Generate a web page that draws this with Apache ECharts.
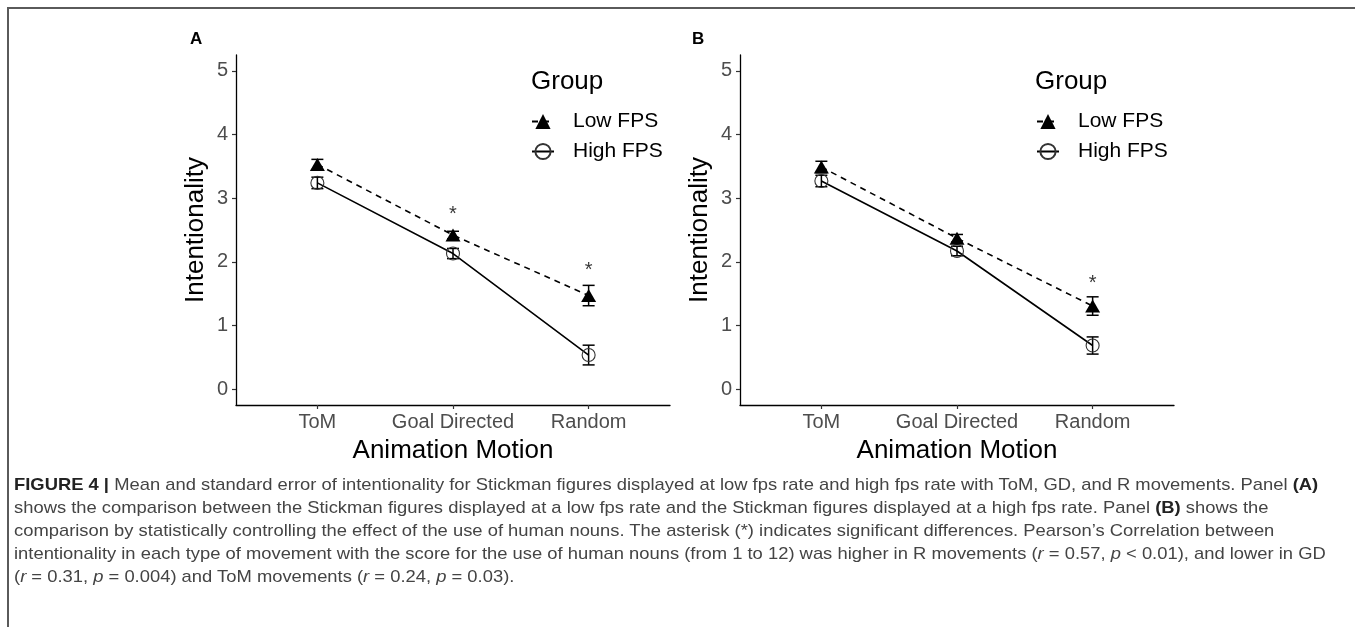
<!DOCTYPE html>
<html>
<head>
<meta charset="utf-8">
<script src="https://cdn.jsdelivr.net/npm/echarts@6/dist/echarts.min.js"></script>
<style>
    html, body { margin: 0; padding: 0; background: #fff; }
    #wrap { position: relative; width: 1355px; height: 627px; overflow: hidden; }
    #chart { position: absolute; left: 0; top: 0; width: 1355px; height: 627px; }
    /* figure frame: only top and left edges are visible */
    #frame { position: absolute; left: 7px; top: 7px; width: 1400px; height: 700px;
             border-top: 2px solid #5a5a5a; border-left: 2px solid #5a5a5a; }
    #caption { position: absolute; left: 14px; top: 473px; color: #444;
               font-family: "Liberation Sans", Arial, sans-serif;
               font-size: 17px; line-height: 23px; white-space: nowrap; transform-origin: 0 0; }
    #caption b { font-weight: bold; color: #222; }
</style>
</head>
<body>
<div id="wrap">
    <div id="chart"></div>
    <div id="frame"></div>
    <div id="caption">
        <div><span id="cap1"><b>FIGURE 4 |</b> Mean and standard error of intentionality for Stickman figures displayed at low fps rate and high fps rate with ToM, GD, and R movements. Panel <b>(A)</b></span></div>
        <div>shows the comparison between the Stickman figures displayed at a low fps rate and the Stickman figures displayed at a high fps rate. Panel <b>(B)</b> shows the</div>
        <div>comparison by statistically controlling the effect of the use of human nouns. The asterisk (*) indicates significant differences. Pearson’s Correlation between</div>
        <div><span id="cap4">intentionality in each type of movement with the score for the use of human nouns (from 1 to 12) was higher in R movements (<i>r</i> = 0.57, <i>p</i> &lt; 0.01), and lower in GD</span></div>
        <div>(<i>r</i> = 0.31, <i>p</i> = 0.004) and ToM movements (<i>r</i> = 0.24, <i>p</i> = 0.03).</div>
    </div>
</div>
<script>
const categories = ['ToM', 'Goal Directed', 'Random'];
const yTicks = [0, 1, 2, 3, 4, 5];

// panel A: low vs high fps
const lowFpsA = [3.53, 2.42, 1.47];
const lowFpsSeA = [0.08, 0.06, 0.16];
const highFpsA = [3.24, 2.13, 0.535];
const highFpsSeA = [0.09, 0.08, 0.155];
const starCatA = [1, 2];
const starValA = [2.81, 1.92];

// panel B: controlling for human nouns
const lowFpsB = [3.49, 2.37, 1.305];
const lowFpsSeB = [0.09, 0.06, 0.145];
const highFpsB = [3.27, 2.17, 0.685];
const highFpsSeB = [0.09, 0.075, 0.135];
const starCatB = [2];
const starValB = [1.72];

const font = '"Liberation Sans", Arial, sans-serif';
const tickColor = '#4d4d4d';

function xAxisFor(idx) {
    return {
        type: 'value',
        gridIndex: idx,
        min: -0.6,
        max: 2.6,
        name: 'Animation Motion',
        nameLocation: 'middle',
        nameGap: 33,
        nameTextStyle: { fontFamily: font, fontSize: 26, color: '#000' },
        axisLine: { onZero: false, lineStyle: { color: '#000', width: 1.3 } },
        axisTick: { customValues: [0, 1, 2], length: 4, lineStyle: { color: '#333', width: 1.2 } },
        axisLabel: {
            customValues: [0, 1, 2],
            formatter: v => categories[Math.round(v)],
            fontFamily: font, fontSize: 20, color: tickColor, margin: 7
        },
        splitLine: { show: false }
    };
}

function yAxisFor(idx) {
    return {
        type: 'value',
        gridIndex: idx,
        min: -0.25,
        max: 5.25,
        name: 'Intentionality',
        nameLocation: 'middle',
        nameGap: 27,
        nameTextStyle: { fontFamily: font, fontSize: 26, color: '#000' },
        axisLine: { show: true, onZero: false, lineStyle: { color: '#000', width: 1.3 } },
        axisTick: { show: true, customValues: yTicks, length: 4, lineStyle: { color: '#333', width: 1.2 } },
        axisLabel: { customValues: yTicks, fontFamily: font, fontSize: 20, color: tickColor, margin: 8 },
        splitLine: { show: false }
    };
}

// vertical error bar with caps
function errorBars(name, idx, means, ses) {
    return {
        type: 'custom',
        name: name + ' se',
        xAxisIndex: idx,
        yAxisIndex: idx,
        z: 1,
        silent: true,
        data: means.map((m, i) => [i, m - ses[i], m + ses[i]]),
        renderItem: function (params, api) {
            const lo = api.coord([api.value(0), api.value(1)]);
            const hi = api.coord([api.value(0), api.value(2)]);
            const half = 6;
            const style = { stroke: '#000', lineWidth: 1.5 };
            return {
                type: 'group',
                children: [
                    { type: 'line', shape: { x1: lo[0], y1: lo[1], x2: hi[0], y2: hi[1] }, style: style },
                    { type: 'line', shape: { x1: lo[0] - half, y1: lo[1], x2: lo[0] + half, y2: lo[1] }, style: style },
                    { type: 'line', shape: { x1: hi[0] - half, y1: hi[1], x2: hi[0] + half, y2: hi[1] }, style: style }
                ]
            };
        }
    };
}

function panelSeries(idx, low, lowSe, high, highSe, starCat, starVal) {
    return [
        errorBars('Low FPS', idx, low, lowSe),
        errorBars('High FPS', idx, high, highSe),
        {
            type: 'line',
            name: 'Low FPS',
            xAxisIndex: idx,
            yAxisIndex: idx,
            z: 3,
            data: low.map((v, i) => [i, v]),
            symbol: 'triangle',
            symbolSize: [15, 13],
            itemStyle: { color: '#000' },
            lineStyle: { color: '#000', width: 1.6, type: [6, 5] }
        },
        {
            type: 'line',
            name: 'High FPS',
            xAxisIndex: idx,
            yAxisIndex: idx,
            z: 2,
            data: high.map((v, i) => [i, v]),
            symbol: 'circle',
            symbolSize: 13,
            itemStyle: { color: 'rgba(255,255,255,0)', borderColor: '#333', borderWidth: 1.1 },
            lineStyle: { color: '#000', width: 1.6 }
        },
        {
            type: 'scatter',
            name: 'signif',
            xAxisIndex: idx,
            yAxisIndex: idx,
            symbolSize: 1,
            itemStyle: { color: 'rgba(0,0,0,0)' },
            label: {
                show: true, position: 'inside', formatter: '*', offset: [0, 4],
                fontFamily: font, fontSize: 20, color: '#000'
            },
            data: starCat.map((c, i) => [c, starVal[i]])
        }
    ];
}

function legendFor(left) {
    return {
        orient: 'vertical',
        left: left,
        top: 106,
        itemWidth: 22,
        itemHeight: 19,
        itemGap: 9,
        data: ['Low FPS', 'High FPS'],
        textStyle: { fontFamily: font, fontSize: 21, color: '#000', padding: [0, 0, 0, 14] },
        selectedMode: false
    };
}

const chart = echarts.init(document.getElementById('chart'), null, { renderer: 'canvas' });
const option = {
    animation: false,
    backgroundColor: 'transparent',
    title: [
        { text: 'A', left: 185, top: 26, textStyle: { fontFamily: font, fontSize: 17, fontWeight: 'bold', color: '#000' } },
        { text: 'B', left: 687, top: 26, textStyle: { fontFamily: font, fontSize: 17, fontWeight: 'bold', color: '#000' } },
        { text: 'Group', left: 526, top: 64, textStyle: { fontFamily: font, fontSize: 26, fontWeight: 'normal', color: '#000' } },
        { text: 'Group', left: 1030, top: 64, textStyle: { fontFamily: font, fontSize: 26, fontWeight: 'normal', color: '#000' } }
    ],
    legend: [legendFor(526), legendFor(1031)],
    grid: [
        { left: 236, top: 55, width: 434, height: 350 },
        { left: 740, top: 55, width: 434, height: 350 }
    ],
    xAxis: [xAxisFor(0), xAxisFor(1)],
    yAxis: [yAxisFor(0), yAxisFor(1)],
    series: [].concat(
        panelSeries(0, lowFpsA, lowFpsSeA, highFpsA, highFpsSeA, starCatA, starValA),
        panelSeries(1, lowFpsB, lowFpsSeB, highFpsB, highFpsSeB, starCatB, starValB)
    )
};
chart.setOption(option);

// squeeze the caption so lines 1 and 4 end near the same right edge as in the figure
const cap = document.getElementById('caption');
const w1 = document.getElementById('cap1').getBoundingClientRect().width;
const w4 = document.getElementById('cap4').getBoundingClientRect().width;
cap.style.transform = 'scaleX(' + (1308 / ((w1 + w4) / 2)) + ')';
</script>
</body>
</html>
